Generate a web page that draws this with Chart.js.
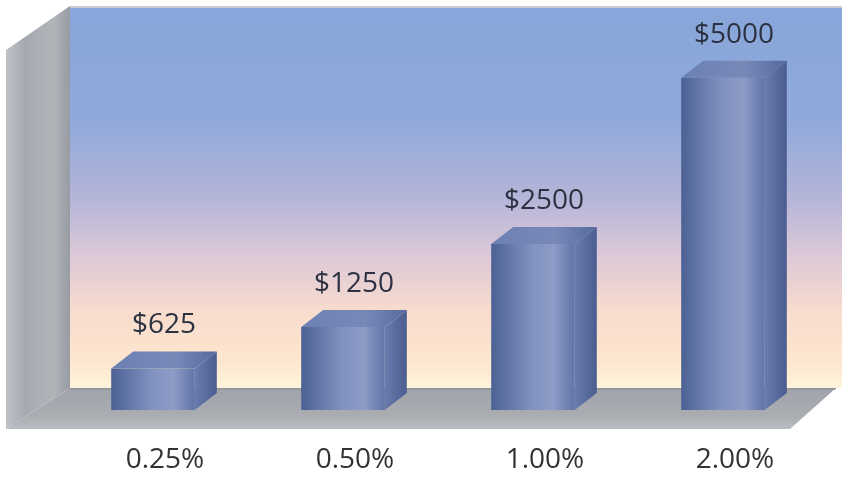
<!DOCTYPE html>
<html>
<head>
<meta charset="utf-8">
<script src="https://cdn.jsdelivr.net/npm/chart.js@4"></script>
<style>
  html, body { margin: 0; padding: 0; background: #fff; }
</style>
</head>
<body>
<canvas id="grafico" width="842" height="477"></canvas>
<script>
const tasas = ['0.25%', '0.50%', '1.00%', '2.00%'];
const montos = [625, 1250, 2500, 5000];
const etiquetas = ['$625', '$1250', '$2500', '$5000'];

// profundidad 3D de las barras
const prof = { dx: 22, dy: -17 };
const anchoBarra = 0.44;

const fondo = {
  id: 'fondo',
  beforeDraw(chart) {
    const { ctx, chartArea: a } = chart;
    const base = a.bottom;
    const wallLeft = 70, wallTop = 8, wallBottom = base - 22;
    const floorFront = base + 19;

    ctx.save();
    // pared del fondo
    let g = ctx.createLinearGradient(0, wallTop, 0, wallBottom);
    g.addColorStop(0, '#88a6da');
    g.addColorStop(0.3, '#90a9da');
    g.addColorStop(0.5, '#b4b5d8');
    g.addColorStop(0.65, '#dcc8d8');
    g.addColorStop(0.8, '#f8dccd');
    g.addColorStop(0.93, '#fde6cf');
    g.addColorStop(1, '#fff3dc');
    ctx.fillStyle = g;
    ctx.fillRect(wallLeft, wallTop, 842 - wallLeft, wallBottom - wallTop);
    ctx.fillStyle = '#c9ccd2';
    ctx.fillRect(wallLeft, wallTop - 2, 842 - wallLeft, 2);

    // pared izquierda
    g = ctx.createLinearGradient(6, 0, wallLeft, 0);
    g.addColorStop(0, '#bfc2c7');
    g.addColorStop(0.3, '#a6a9af');
    g.addColorStop(0.75, '#b1b4b9');
    g.addColorStop(1, '#979ba2');
    ctx.fillStyle = g;
    ctx.beginPath();
    ctx.moveTo(6, 50);
    ctx.lineTo(wallLeft, wallTop - 2);
    ctx.lineTo(wallLeft, wallBottom);
    ctx.lineTo(6, floorFront);
    ctx.closePath();
    ctx.fill();

    // piso
    g = ctx.createLinearGradient(0, wallBottom, 0, floorFront);
    g.addColorStop(0, '#a0a4aa');
    g.addColorStop(0.7, '#aaadb2');
    g.addColorStop(1, '#b9bcc1');
    ctx.fillStyle = g;
    ctx.beginPath();
    ctx.moveTo(6, floorFront);
    ctx.lineTo(790, floorFront);
    ctx.lineTo(836, wallBottom);
    ctx.lineTo(wallLeft, wallBottom);
    ctx.closePath();
    ctx.fill();
    ctx.fillStyle = '#8f949b';
    ctx.fillRect(wallLeft, wallBottom, 836 - wallLeft, 1.5);
    ctx.restore();
  }
};

const barras3d = {
  id: 'barras3d',
  afterDatasetsDraw(chart) {
    const { ctx } = chart;
    const meta = chart.getDatasetMeta(0);
    meta.data.forEach((bar, i) => {
      const { x, y, base, width } = bar.getProps(['x', 'y', 'base', 'width'], true);
      const l = x - width / 2, r = x + width / 2;
      ctx.save();
      // cara lateral
      let g = ctx.createLinearGradient(r, 0, r + prof.dx, 0);
      g.addColorStop(0, '#6a7cad');
      g.addColorStop(1, '#4b5d90');
      ctx.fillStyle = g;
      ctx.beginPath();
      ctx.moveTo(r, y);
      ctx.lineTo(r + prof.dx, y + prof.dy);
      ctx.lineTo(r + prof.dx, base + prof.dy);
      ctx.lineTo(r, base);
      ctx.closePath();
      ctx.fill();
      // cara superior
      g = ctx.createLinearGradient(l, 0, r + prof.dx, 0);
      g.addColorStop(0, '#6c80b3');
      g.addColorStop(0.6, '#7889b8');
      g.addColorStop(1, '#55699c');
      ctx.fillStyle = g;
      ctx.beginPath();
      ctx.moveTo(l, y);
      ctx.lineTo(l + prof.dx, y + prof.dy);
      ctx.lineTo(r + prof.dx, y + prof.dy);
      ctx.lineTo(r, y);
      ctx.closePath();
      ctx.fill();
      // etiqueta de valor
      ctx.fillStyle = '#2d3242';
      ctx.font = '28px "Open Sans"';
      ctx.textAlign = 'center';
      ctx.textBaseline = 'alphabetic';
      ctx.fillText(etiquetas[i], x + prof.dx / 2, y + prof.dy - 18);
      ctx.restore();
    });
  }
};

new Chart(document.getElementById('grafico'), {
  type: 'bar',
  data: {
    labels: tasas,
    datasets: [{
      data: montos,
      barPercentage: anchoBarra,
      categoryPercentage: 1,
      borderWidth: 0,
      backgroundColor(c) {
        const chart = c.chart;
        const xs = chart.scales.x;
        if (!xs || !chart.chartArea) return '#6a7fb3';
        const cx = xs.getPixelForValue(c.dataIndex);
        const w = xs.width / tasas.length * anchoBarra;
        const g = chart.ctx.createLinearGradient(cx - w / 2, 0, cx + w / 2, 0);
        g.addColorStop(0, '#4c6194');
        g.addColorStop(0.5, '#8293c0');
        g.addColorStop(0.75, '#8d9bc6');
        g.addColorStop(1, '#6174a7');
        return g;
      }
    }]
  },
  options: {
    responsive: false,
    animation: false,
    devicePixelRatio: 1,
    layout: { padding: { left: 58, right: 24, top: 14, bottom: 0 } },
    plugins: { legend: { display: false }, tooltip: { enabled: false } },
    scales: {
      y: { display: false, min: 0, max: 5960 },
      x: {
        grid: { display: false },
        border: { display: false },
        ticks: {
          padding: 25,
          labelOffset: 12,
          color: '#333333',
          font: { family: 'Open Sans', size: 28 }
        },
        afterFit(scale) { scale.height = 67; }
      }
    }
  },
  plugins: [fondo, barras3d]
});
</script>
</body>
</html>
